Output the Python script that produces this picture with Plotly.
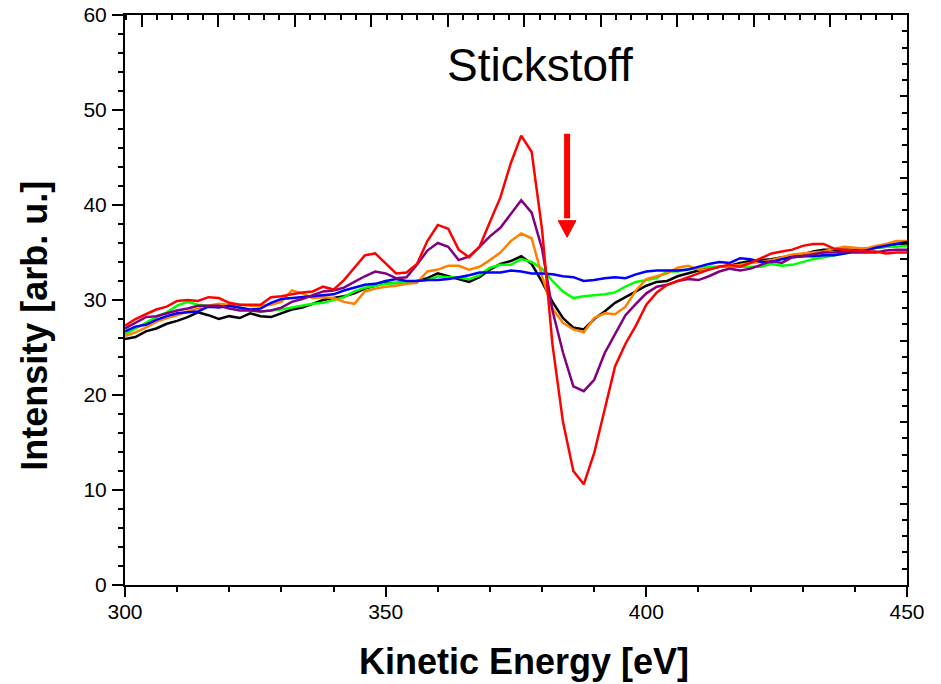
import plotly.graph_objects as go

energy = list(range(300, 451, 2))

red = [27.3, 28.0, 28.5, 29.0, 29.3, 29.9, 30.0, 29.9, 30.3, 30.2,
       29.7, 29.5, 29.5, 29.5, 30.3, 30.4, 30.6, 30.8, 30.9, 31.4,
       31.1, 32.1, 33.4, 34.7, 34.9, 33.9, 32.8, 32.9, 33.8, 36.2,
       37.9, 37.5, 35.3, 34.5, 35.6, 38.2, 40.8, 44.4, 47.3, 45.6,
       37.4, 25.3, 17.2, 12.0, 10.6, 13.9, 18.5, 23.0, 25.4, 27.3,
       29.5, 30.8, 31.6, 32.0, 32.4, 32.8, 33.2, 33.5, 33.7, 33.5,
       33.9, 34.4, 34.9, 35.1, 35.3, 35.7, 35.9, 35.9, 35.4, 35.3,
       35.2, 35.1, 35.1, 34.9, 35.0, 35.0]

purple = [27.0, 27.6, 28.2, 28.3, 28.6, 28.9, 29.1, 29.4, 29.4, 29.4,
          29.1, 28.9, 28.9, 28.8, 28.9, 29.2, 29.8, 30.1, 30.5, 30.9,
          31.0, 31.3, 31.9, 32.5, 33.0, 32.8, 32.3, 32.4, 33.7, 35.2,
          36.0, 35.6, 34.2, 34.6, 35.6, 36.7, 37.6, 39.1, 40.5, 39.2,
          35.4, 28.9, 24.5, 20.9, 20.4, 21.6, 24.4, 26.4, 28.4, 29.6,
          30.7, 31.4, 31.6, 32.0, 32.2, 32.1, 32.5, 33.0, 33.3, 33.1,
          33.3, 33.7, 34.1, 33.9, 34.5, 34.6, 34.8, 35.0, 35.0, 35.1,
          35.0, 35.0, 35.0, 35.2, 35.3, 35.3]

orange = [26.2, 26.6, 27.1, 27.7, 28.1, 28.4, 28.8, 29.1, 29.4, 29.6,
          29.5, 29.5, 29.4, 29.4, 29.5, 29.8, 31.0, 30.7, 30.2, 30.3,
          30.2, 29.8, 29.6, 30.9, 31.2, 31.4, 31.5, 31.7, 31.8, 33.0,
          33.2, 33.6, 33.6, 33.2, 33.5, 34.2, 35.0, 36.2, 37.0, 36.5,
          32.5, 29.1, 27.6, 26.9, 26.6, 28.1, 28.6, 28.5, 29.3, 31.0,
          32.2, 32.5, 32.8, 33.4, 33.6, 33.2, 33.2, 33.5, 33.6, 33.7,
          33.9, 34.0, 34.2, 34.5, 34.8, 34.9, 35.0, 35.1, 35.4, 35.6,
          35.5, 35.4, 35.7, 35.9, 36.2, 36.2]

black = [25.9, 26.1, 26.7, 27.0, 27.5, 27.8, 28.2, 28.7, 28.4, 28.0,
         28.3, 28.1, 28.6, 28.3, 28.2, 28.6, 29.0, 29.2, 29.6, 30.0,
         30.2, 30.4, 30.7, 31.2, 31.5, 31.8, 31.8, 31.9, 32.0, 32.3,
         32.8, 32.5, 32.2, 31.9, 32.4, 33.2, 33.8, 34.1, 34.6, 33.8,
         31.9, 29.8, 28.1, 27.1, 26.9, 28.0, 28.8, 29.7, 30.3, 30.9,
         31.5, 31.9, 32.0, 32.5, 32.8, 33.1, 33.3, 33.5, 33.6, 33.9,
         34.1, 34.2, 34.3, 34.5, 34.6, 34.8, 35.1, 35.3, 35.3, 35.3,
         35.3, 35.4, 35.5, 35.6, 35.9, 35.9]

green = [26.4, 27.0, 27.6, 28.2, 28.7, 29.4, 29.8, 29.5, 29.4, 29.4,
         29.4, 29.2, 28.9, 28.8, 28.9, 29.0, 29.2, 29.4, 29.6, 29.7,
         30.0, 30.3, 30.9, 31.3, 31.5, 31.7, 31.8, 31.9, 32.0, 32.1,
         32.5, 32.4, 32.4, 32.2, 32.6, 33.4, 33.7, 33.7, 34.3, 34.0,
         33.3, 32.0, 30.9, 30.2, 30.4, 30.5, 30.6, 30.8, 31.4, 31.9,
         32.1, 32.3, 33.0, 33.0, 33.2, 33.4, 33.5, 33.5, 33.5, 33.5,
         33.5, 33.5, 33.8, 33.6, 33.7, 34.0, 34.3, 34.5, 34.7, 34.9,
         35.1, 35.2, 35.5, 35.6, 35.6, 35.7]

blue = [26.7, 27.2, 27.4, 27.9, 28.3, 28.6, 28.7, 28.8, 29.3, 29.2,
        29.4, 29.2, 29.0, 29.1, 29.7, 30.1, 30.2, 30.3, 30.4, 30.5,
        30.6, 31.0, 31.3, 31.6, 31.7, 32.0, 32.2, 32.0, 32.0, 32.1,
        32.1, 32.2, 32.4, 32.6, 32.9, 32.9, 32.9, 33.1, 33.0, 32.8,
        32.8, 32.7, 32.5, 32.4, 32.0, 32.1, 32.3, 32.4, 32.3, 32.7,
        33.0, 33.1, 33.1, 33.1, 33.2, 33.5, 33.8, 34.0, 33.9, 34.4,
        34.3, 34.0, 34.0, 34.3, 34.5, 34.6, 34.6, 34.7, 34.7, 34.9,
        35.1, 35.2, 35.5, 35.7, 35.9, 36.1]

series = [
    ("black", black, "#000000"),
    ("green", green, "#00FF00"),
    ("orange", orange, "#FF8000"),
    ("blue", blue, "#0000FF"),
    ("purple", purple, "#800080"),
    ("red", red, "#FF0000"),
]

x_ticks = [300, 350, 400, 450]
y_ticks = [0, 10, 20, 30, 40, 50, 60]
title_text = "Stickstoff"
x_title = "Kinetic Energy [eV]"
y_title = "Intensity [arb. u.]"
arrow_x = 384.8
arrow_top = 47.5
arrow_tip = 36.6

FONT = "Liberation Sans, Arial, sans-serif"

fig = go.Figure()
for name, vals, col in series:
    fig.add_trace(go.Scatter(x=energy, y=vals, mode="lines", name=name,
                             line=dict(color=col, width=2.5), showlegend=False,
                             hoverinfo="skip"))

# dummy trace for the mirrored top/right axes
fig.add_trace(go.Scatter(x=[None], y=[None], xaxis="x2", yaxis="y2",
                         showlegend=False, hoverinfo="skip"))

axis_common = dict(showgrid=False, zeroline=False, showline=True,
                   linecolor="black", linewidth=2, tickcolor="black",
                   tickwidth=2, automargin=False)

fig.update_layout(
    width=941, height=684,
    margin=dict(l=125, r=34, t=15, b=99),
    paper_bgcolor="white", plot_bgcolor="white",
    font=dict(family=FONT, color="black"),
    xaxis=dict(range=[300, 450], tickvals=x_ticks, ticks="outside",
               ticklen=10, tickfont=dict(size=21), ticklabelstandoff=-3,
               minor=dict(dtick=10, tick0=300, ticks="outside", ticklen=5,
                          tickwidth=2, tickcolor="black"),
               **axis_common),
    yaxis=dict(range=[0, 60], tickvals=y_ticks, ticks="outside",
               ticklen=11, tickfont=dict(size=21), ticklabelstandoff=1,
               minor=dict(dtick=2, tick0=0, ticks="outside", ticklen=5,
                          tickwidth=2, tickcolor="black"),
               **axis_common),
    xaxis2=dict(overlaying="x", side="top", range=[-0.218, 10],
                tick0=0, dtick=1, ticks="inside", ticklen=12,
                showticklabels=False,
                minor=dict(dtick=0.2, tick0=0, ticks="inside", ticklen=5,
                           tickwidth=2, tickcolor="black"),
                **axis_common),
    yaxis2=dict(overlaying="y", side="right", range=[0, 70],
                tick0=0, dtick=10, ticks="inside", ticklen=7,
                showticklabels=False,
                minor=dict(dtick=2, tick0=0, ticks="inside", ticklen=5,
                           tickwidth=2, tickcolor="black"),
                **axis_common),
)

# axis titles
fig.add_annotation(x=0.51, y=-0.135, xref="paper", yref="paper",
                   text=f"<b>{x_title}</b>", showarrow=False,
                   font=dict(size=36, family=FONT),
                   xanchor="center", yanchor="middle")
fig.add_annotation(x=-0.115, y=0.455, xref="paper", yref="paper",
                   text=f"<b>{y_title}</b>", showarrow=False, textangle=-90,
                   font=dict(size=36, family=FONT),
                   xanchor="center", yanchor="middle")

fig.add_annotation(x=379.6, y=54.7, xref="x", yref="y", text=title_text,
                   showarrow=False, font=dict(size=46, family=FONT),
                   xanchor="center", yanchor="middle")

# red arrow
fig.add_shape(type="line", xref="x", yref="y", x0=arrow_x, x1=arrow_x,
              y0=arrow_top, y1=arrow_tip + 2.0,
              line=dict(color="#FF0000", width=6))
fig.add_shape(type="path", xref="x", yref="y",
              path=f"M {arrow_x-1.7},{arrow_tip+1.75} L {arrow_x+1.7},{arrow_tip+1.75} L {arrow_x},{arrow_tip} Z",
              fillcolor="#FF0000", line=dict(color="#FF0000", width=1))

fig.write_html("out.html")
